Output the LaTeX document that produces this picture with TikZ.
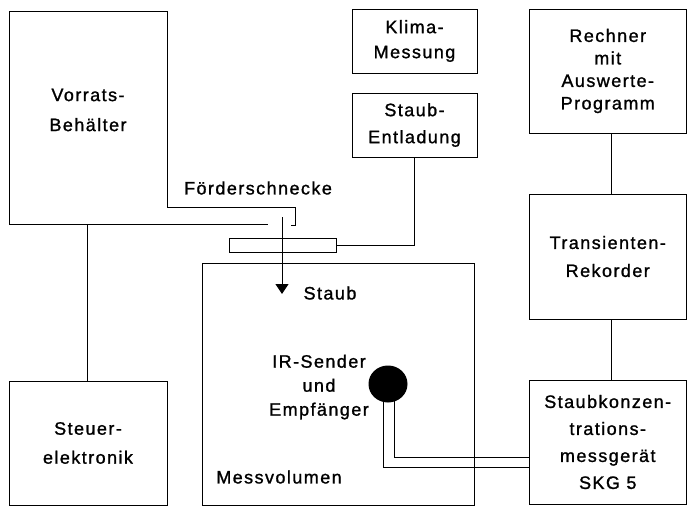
\documentclass[tikz,border=0pt]{standalone}
\usepackage{fontspec}
\setmainfont{Liberation Sans}[LetterSpace=8,FakeBold=1.2]
\usetikzlibrary{arrows.meta,shapes.geometric}
\newcommand\lblf[1]{\fontsize{18}{#1}\selectfont}
\begin{document}
\begin{tikzpicture}[x=1pt,y=-1pt,line width=1pt,
  box/.style={draw,inner sep=0pt,align=center},
  txt/.style={inner sep=0pt,align=center}]
\useasboundingbox (0,0) rectangle (687,506);
% Vorratsbehaelter (irregular outline)
\draw (291,225) -- (295,225) -- (295,207) -- (167,207) -- (167,11) -- (9,11) -- (9,224) -- (268,224);
\node[txt,font=\lblf{30}] (vorr) at (88,110) {Vorrats-\\Behälter};
\coordinate (vb) at (87,224);
% Steuerelektronik
\node[box,minimum width=158pt,minimum height=124pt,font=\lblf{29}] (steuer) at (88,443) {Steuer-\\elektronik};
\draw (vb) -- (vb |- steuer.north);
% Foerderschnecke
\node[txt,font=\lblf{27}] (fsl) at (258,188) {Förderschnecke};
\node[draw,inner sep=0pt,minimum width=107pt,minimum height=14pt] (screw) at (282.5,245) {};
\coordinate (fs) at (282,217);
\coordinate (ft) at (282,294);
\draw[-{Triangle[width=13pt,length=10pt]}] (fs) -- (ft);
% Klima, Staub-Entladung
\node[box,minimum width=125pt,minimum height=64pt,font=\lblf{25}] (klima) at (414.5,41) {Klima-\\Messung};
\node[box,minimum width=125pt,minimum height=64pt,font=\lblf{27}] (entl) at (414.5,125) {Staub-\\Entladung};
\draw (screw.east) -| (entl.south);
% Messvolumen
\node[draw,inner sep=0pt,minimum width=272pt,minimum height=242pt] (mv) at (338,384) {};
\node[txt,font=\lblf{27}] (staub) at (330,293) {Staub};
\node[txt,font=\lblf{24}] (irt) at (319,387) {IR-Sender\\und\\Empfänger};
\node[txt,font=\lblf{27}] (mvt) at (279,477) {Messvolumen};
\node[draw,fill=black,ellipse,inner sep=0pt,minimum width=38pt,minimum height=36pt] (ir) at (388,384) {};
% right column
\node[box,minimum width=157.5pt,minimum height=124pt,font=\lblf{22.5}] (rech) at (607.75,71) {Rechner\\mit\\Auswerte-\\Programm};
\node[box,minimum width=157.5pt,minimum height=125pt,font=\lblf{28}] (trans) at (607.75,256.5) {Transienten-\\Rekorder};
\node[box,minimum width=157.5pt,minimum height=124pt,font=\lblf{27}] (skg) at (607.75,442) {Staubkonzen-\\trations-\\messgerät\\SKG 5};
\draw ([xshift=4pt]rech.south) -- ([xshift=4pt]trans.north);
\draw ([xshift=4pt]trans.south) -- ([xshift=4pt]skg.north);
% cables
\coordinate (ca) at (383,399);
\coordinate (cb) at (394,399);
\draw (ca) |- ([yshift=-25pt]skg.west);
\draw (cb) |- ([yshift=-15pt]skg.west);
\end{tikzpicture}
\end{document}
